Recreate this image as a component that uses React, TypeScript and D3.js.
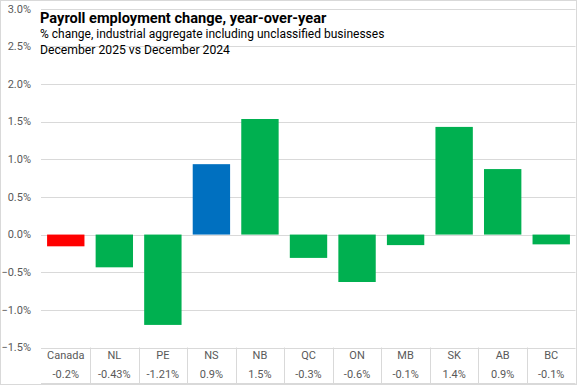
import React, { useEffect, useRef } from "react";
import * as d3 from "d3";

const regions = ["Canada", "NL", "PE", "NS", "NB", "QC", "ON", "MB", "SK", "AB", "BC"];
const changes = [-0.156, -0.435, -1.2, 0.935, 1.535, -0.31, -0.63, -0.14, 1.43, 0.87, -0.13];
const tableLabels = ["-0.2%", "-0.43%", "-1.21%", "0.9%", "1.5%", "-0.3%", "-0.6%", "-0.1%", "1.4%", "0.9%", "-0.1%"];
const yTicks = [-1.5, -1.0, -0.5, 0.0, 0.5, 1.0, 1.5, 2.0, 2.5, 3.0];

const W = 577;
const H = 385;

const App = () => {
  const ref = useRef<SVGSVGElement>(null);

  useEffect(() => {
    const svg = d3.select(ref.current);
    svg.selectAll("*").remove();

    const x = d3
      .scaleBand()
      .domain(regions)
      .range([41.5, 575.5])
      .paddingInner(0.23)
      .paddingOuter(0.115);

    const bands = d3.scaleBand().domain(regions).range([41.5, 575.5]);

    const y = d3.scaleLinear().domain([-1.5, 3]).range([347.5, 8.7]);

    // chart border
    svg
      .append("rect")
      .attr("x", 0.5)
      .attr("y", 0.5)
      .attr("width", W - 1)
      .attr("height", H - 1)
      .attr("fill", "#fff")
      .attr("stroke", "#d9d9d9");

    // gridlines
    svg
      .append("g")
      .selectAll("line")
      .data(yTicks)
      .enter()
      .append("line")
      .attr("x1", 41)
      .attr("x2", 575.5)
      .attr("y1", (d) => Math.round(y(d)) + 0.5)
      .attr("y2", (d) => Math.round(y(d)) + 0.5)
      .attr("stroke", "#d9d9d9");

    // y tick labels
    svg
      .append("g")
      .selectAll("text")
      .data(yTicks)
      .enter()
      .append("text")
      .attr("x", 31)
      .attr("y", (d) => y(d))
      .attr("dy", "0.35em")
      .attr("text-anchor", "end")
      .attr("font-family", "Roboto, sans-serif")
      .attr("font-size", 11)
      .attr("fill", "#595959")
      .text((d) => d3.format(".1f")(d) + "%");

    // bars
    svg
      .append("g")
      .selectAll("rect")
      .data(regions)
      .enter()
      .append("rect")
      .attr("x", (d) => x(d)!)
      .attr("width", x.bandwidth())
      .attr("y", (d, i) => y(Math.max(0, changes[i])))
      .attr("height", (d, i) => Math.abs(y(changes[i]) - y(0)))
      .attr("fill", (d) => (d === "Canada" ? "#ff0000" : d === "NS" ? "#0070c0" : "#00b050"));

    // data table
    const table = svg.append("g");
    table
      .append("line")
      .attr("x1", 41)
      .attr("x2", 575.5)
      .attr("y1", 383.5)
      .attr("y2", 383.5)
      .attr("stroke", "#d9d9d9");
    table
      .selectAll(".sep")
      .data(regions.slice(1))
      .enter()
      .append("line")
      .attr("class", "sep")
      .attr("x1", (d) => Math.round(bands(d)!) + 0.5)
      .attr("x2", (d) => Math.round(bands(d)!) + 0.5)
      .attr("y1", 347.5)
      .attr("y2", 383.5)
      .attr("stroke", "#d9d9d9");
    table
      .selectAll(".cat")
      .data(regions)
      .enter()
      .append("text")
      .attr("x", (d) => bands(d)! + bands.bandwidth() / 2)
      .attr("y", 355)
      .attr("dy", "0.35em")
      .attr("text-anchor", "middle")
      .attr("font-family", "Roboto, sans-serif")
      .attr("font-size", 11)
      .attr("fill", "#595959")
      .text((d) => d);
    table
      .selectAll(".val")
      .data(tableLabels)
      .enter()
      .append("text")
      .attr("x", (d, i) => bands(regions[i])! + bands.bandwidth() / 2)
      .attr("y", 374)
      .attr("dy", "0.35em")
      .attr("text-anchor", "middle")
      .attr("font-family", "Roboto, sans-serif")
      .attr("font-size", 11)
      .attr("fill", "#595959")
      .text((d) => d);

    // titles
    svg
      .append("text")
      .attr("x", 40)
      .attr("y", 23)
      .attr("font-family", "Roboto, sans-serif")
      .attr("font-size", 14.6)
      .attr("font-weight", "bold")
      .attr("fill", "#000")
      .text("Payroll employment change, year-over-year");
    svg
      .append("text")
      .attr("x", 40)
      .attr("y", 38)
      .attr("font-family", "Roboto, sans-serif")
      .attr("font-size", 12)
      .attr("fill", "#000")
      .text("% change, industrial aggregate  including unclassified businesses");
    svg
      .append("text")
      .attr("x", 40)
      .attr("y", 54)
      .attr("font-family", "Roboto, sans-serif")
      .attr("font-size", 12.2)
      .attr("fill", "#000")
      .text("December  2025 vs December  2024");
  }, []);

  return (
    <svg
      ref={ref}
      width={W}
      height={H}
      style={{ position: "absolute", left: 0, top: 0, display: "block" }}
    />
  );
};

export default App;
